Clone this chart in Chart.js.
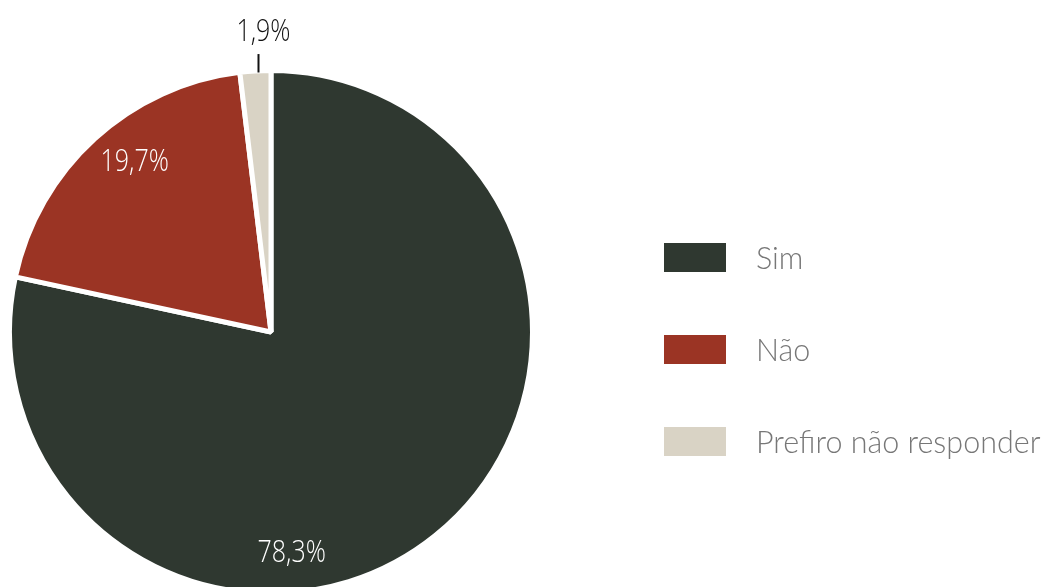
<!DOCTYPE html>
<html>
<head>
<meta charset="utf-8">
<script src="https://cdn.jsdelivr.net/npm/chart.js@4"></script>
<style>
  html, body { margin: 0; padding: 0; background: #fff; overflow: hidden; }
  #wrap { width: 1046px; height: 600px; position: relative; }
</style>
</head>
<body>
<div id="wrap"><canvas id="canvas"></canvas></div>
<script>
const categories = ["Sim", "Não", "Prefiro não responder"];
const values = [78.3, 19.7, 1.9];
const valueLabels = ["78,3%", "19,7%", "1,9%"];
const colors = ["#2f3830", "#9b3424", "#d9d3c5"];

// label placement: shift from slice mid-angle (deg), radius fraction
const labelShift = [33.5, 4, 2];
const labelRadius = [0.84, 0.84, 1.155];

const sliceLabels = {
  id: "sliceLabels",
  afterDatasetsDraw(chart) {
    const ctx = chart.ctx;
    const arcs = chart.getDatasetMeta(0).data;
    arcs.forEach((arc, i) => {
      const p = arc.getProps(["x", "y", "startAngle", "endAngle", "outerRadius"], true);
      const a = (p.startAngle + p.endAngle) / 2 + labelShift[i] * Math.PI / 180;
      const r = p.outerRadius * labelRadius[i];
      const x = p.x + Math.cos(a) * r;
      const y = p.y + Math.sin(a) * r + 2;
      ctx.save();
      if (labelRadius[i] > 1) {
        ctx.strokeStyle = "#111";
        ctx.lineWidth = 2;
        ctx.beginPath();
        ctx.moveTo(x - 5, p.y - p.outerRadius + 2);
        ctx.lineTo(x - 5, y + 22);
        ctx.stroke();
        ctx.fillStyle = "#111";
      } else {
        ctx.fillStyle = "#fff";
      }
      // condensed face
      ctx.translate(x, y);
      ctx.scale(0.78, 1);
      ctx.font = "300 32px 'Open Sans', sans-serif";
      ctx.textAlign = "center";
      ctx.textBaseline = "middle";
      ctx.fillText(valueLabels[i], 0, 0);
      ctx.restore();
    });
  }
};

const sideLegend = {
  id: "sideLegend",
  afterDraw(chart) {
    const ctx = chart.ctx;
    ctx.save();
    ctx.font = "300 30.5px Lato, 'Open Sans', sans-serif";
    ctx.textBaseline = "middle";
    chart.data.labels.forEach((lab, i) => {
      const top = 243 + i * 92;
      ctx.fillStyle = chart.data.datasets[0].backgroundColor[i];
      ctx.fillRect(664, top, 62, 29);
      ctx.fillStyle = "#777";
      ctx.fillText(lab, 756, top + 16);
    });
    ctx.restore();
  }
};

const chartContainer = document.getElementById("canvas").getContext("2d");
const pieChart = new Chart(chartContainer, {
  type: "pie",
  data: {
    labels: categories,
    datasets: [
      {
        data: values,
        backgroundColor: colors,
        borderColor: "#fff",
        borderWidth: 5,
        hoverOffset: 0,
      },
    ],
  },
  options: {
    responsive: true,
    maintainAspectRatio: false,
    animation: false,
    layout: {
      padding: { left: 7, right: 511, top: 68, bottom: 4 },
    },
    plugins: {
      legend: { display: false },
      tooltip: { enabled: false },
    },
  },
  plugins: [sliceLabels, sideLegend],
});
</script>
</body>
</html>
